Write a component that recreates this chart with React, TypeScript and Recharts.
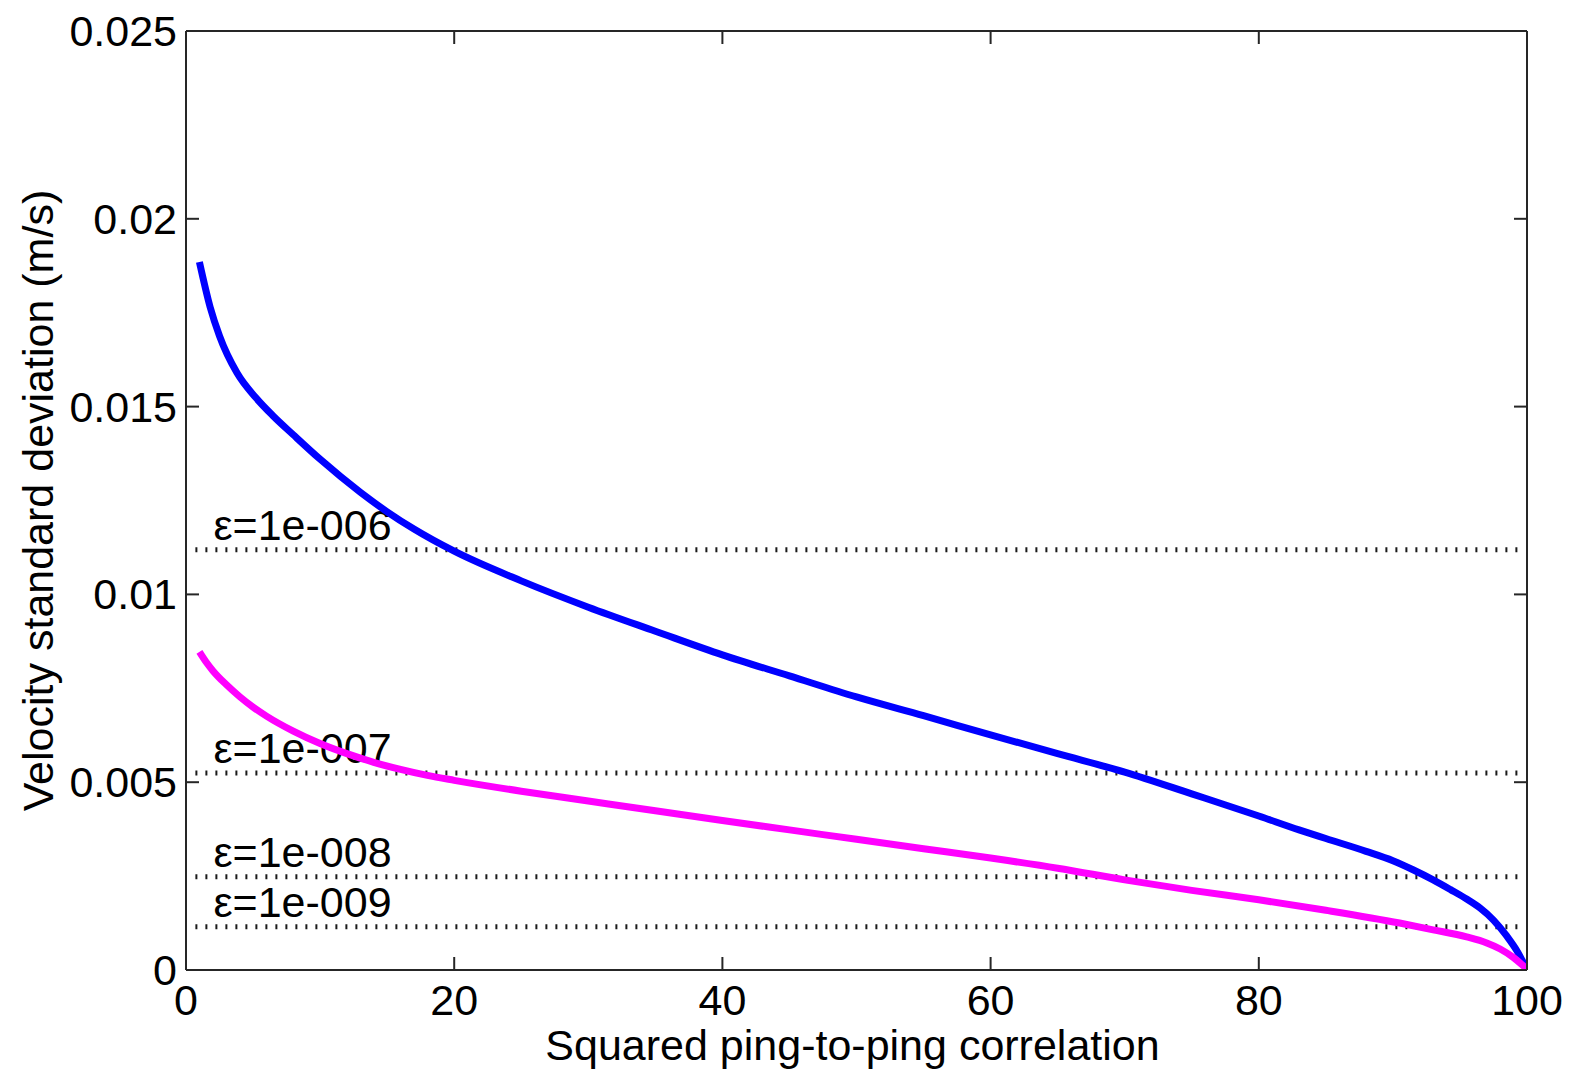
import { LineChart, Line, XAxis, YAxis, ReferenceLine } from "recharts"

// axis ticks
const xTicks = [0, 20, 40, 60, 80, 100]
const yTicks = [0, 0.005, 0.01, 0.015, 0.02, 0.025]

// blue curve
const blueX = [1, 1.8, 2.5, 3.8, 5.2, 6.5, 8, 10, 13, 15, 17, 20, 25, 30, 35, 40, 45, 50, 55, 60, 65, 70, 75, 80, 83, 85, 88, 90, 91.5, 93, 94.3, 95.5, 96.5, 97.5, 98.5, 99.3, 100]
const blueY = [0.01885, 0.01765, 0.01688, 0.0159, 0.01524, 0.01475, 0.01425, 0.0136, 0.01272, 0.0122, 0.01174, 0.01115, 0.01036, 0.00966, 0.00902, 0.00839, 0.00783, 0.00727, 0.00677, 0.00626, 0.00576, 0.00527, 0.00469, 0.0041, 0.00373, 0.0035, 0.00316, 0.00291, 0.00267, 0.0024, 0.00214, 0.00189, 0.00165, 0.00133, 0.0009, 0.00048, 0]

// magenta curve
const magentaX = [1, 1.5, 2, 3, 4, 5, 6, 8, 10, 12, 14, 16, 18, 20, 25, 30, 35, 40, 45, 50, 55, 60, 65, 70, 75, 80, 85, 90.5, 93, 95.5, 97, 98, 99, 99.6, 100]
const magentaY = [0.00847, 0.0082, 0.00797, 0.0076, 0.00728, 0.007, 0.00676, 0.00636, 0.00603, 0.00576, 0.00553, 0.00534, 0.00518, 0.00505, 0.00476, 0.0045, 0.00424, 0.00398, 0.00373, 0.00348, 0.00323, 0.00298, 0.00271, 0.0024, 0.00212, 0.00187, 0.00159, 0.00125, 0.00107, 0.00088, 0.00072, 0.00056, 0.00033, 0.00015, 0.00002]

// epsilon reference levels
const epsLabels = ["ε=1e-006", "ε=1e-007", "ε=1e-008", "ε=1e-009"]
const epsLevels = [0.01119, 0.005245, 0.00248, 0.00115]
const epsStart = 0.7
const epsEnd = 99.5

const blueData = blueX.map((x, i) => ({ x, y: blueY[i] }))
const magentaData = magentaX.map((x, i) => ({ x, y: magentaY[i] }))

const FONT = "'Liberation Sans', Arial, Helvetica, sans-serif"
const FS = 43
const FRAME = "#262626"
const TICK_LEN = 13
const TINY = 0.001

const BottomTick = (props: any) => {
  const { x, y, payload } = props
  return (
    <g>
      <line x1={x} y1={y} x2={x} y2={y - TICK_LEN} stroke={FRAME} strokeWidth={2} />
      <text x={x} y={y + 45} textAnchor="middle" fontSize={FS} fontFamily={FONT} fill="#000">
        {payload.value}
      </text>
    </g>
  )
}

const TopTick = (props: any) => {
  const { x, y } = props
  return <line x1={x} y1={y} x2={x} y2={y + TICK_LEN} stroke={FRAME} strokeWidth={2} />
}

const LeftTick = (props: any) => {
  const { x, y, payload } = props
  return (
    <g>
      <line x1={x} y1={y} x2={x + TICK_LEN} y2={y} stroke={FRAME} strokeWidth={2} />
      <text x={x - 9} y={y + 15} textAnchor="end" fontSize={FS} fontFamily={FONT} fill="#000">
        {String(payload.value)}
      </text>
    </g>
  )
}

const RightTick = (props: any) => {
  const { x, y } = props
  return <line x1={x} y1={y} x2={x - TICK_LEN} y2={y} stroke={FRAME} strokeWidth={2} />
}

const xTitle = (props: any) => {
  const vb = props.viewBox
  return (
    <text x={vb.x + vb.width / 2 - 4} y={vb.y + 90} textAnchor="middle" fontSize={FS} fontFamily={FONT} fill="#000">
      Squared ping-to-ping correlation
    </text>
  )
}

const yTitle = (props: any) => {
  const vb = props.viewBox
  const cx = 53
  const cy = vb.y + vb.height / 2
  return (
    <text x={cx} y={cy} transform={`rotate(-90 ${cx} ${cy})`} textAnchor="middle" fontSize={FS} fontFamily={FONT} fill="#000">
      Velocity standard deviation (m/s)
    </text>
  )
}

const epsLabel = (label: string) => (props: any) => {
  const vb = props.viewBox
  return (
    <text x={vb.x + 18} y={vb.y - 10} fontSize={FS} fontFamily={FONT} fill="#000">
      {label}
    </text>
  )
}

export default function App() {
  return (
    <div style={{ position: "absolute", left: 0, top: 0, width: 1569, height: 1074, background: "#fff" }}>
      <LineChart width={1569} height={1074} margin={{ top: 30, right: 41, bottom: 0, left: 0 }}>
        <XAxis
          xAxisId="b"
          type="number"
          dataKey="x"
          domain={[0, 100]}
          ticks={xTicks}
          interval={0}
          height={104}
          tickSize={TINY}
          tickMargin={TINY}
          tickLine={false}
          axisLine={{ stroke: FRAME, strokeWidth: 2 }}
          tick={<BottomTick />}
          label={xTitle}
          allowDataOverflow
        />
        <XAxis
          xAxisId="t"
          orientation="top"
          type="number"
          dataKey="x"
          domain={[0, 100]}
          ticks={xTicks}
          interval={0}
          height={1}
          tickSize={TINY}
          tickMargin={TINY}
          tickLine={false}
          axisLine={{ stroke: FRAME, strokeWidth: 2 }}
          tick={<TopTick />}
          allowDataOverflow
        />
        <YAxis
          yAxisId="l"
          type="number"
          domain={[0, 0.025]}
          ticks={yTicks}
          interval={0}
          width={186}
          tickSize={TINY}
          tickMargin={TINY}
          tickLine={false}
          axisLine={{ stroke: FRAME, strokeWidth: 2 }}
          tick={<LeftTick />}
          label={yTitle}
          allowDataOverflow
        />
        <YAxis
          yAxisId="r"
          orientation="right"
          type="number"
          domain={[0, 0.025]}
          ticks={yTicks}
          interval={0}
          width={1}
          tickSize={TINY}
          tickMargin={TINY}
          tickLine={false}
          axisLine={{ stroke: FRAME, strokeWidth: 2 }}
          tick={<RightTick />}
          allowDataOverflow
        />
        {epsLevels.map((v, i) => (
          <ReferenceLine
            key={epsLabels[i]}
            xAxisId="b"
            yAxisId="l"
            segment={[{ x: epsStart, y: v }, { x: epsEnd, y: v }]}
            stroke="#1a1a1a"
            strokeWidth={5}
            strokeDasharray="2 8"
            label={epsLabel(epsLabels[i])}
          />
        ))}
        <Line
          xAxisId="b"
          yAxisId="l"
          data={blueData}
          dataKey="y"
          type="monotone"
          stroke="#0000ff"
          strokeWidth={7}
          dot={false}
          activeDot={false}
          isAnimationActive={false}
        />
        <Line
          xAxisId="b"
          yAxisId="l"
          data={magentaData}
          dataKey="y"
          type="monotone"
          stroke="#ff00ff"
          strokeWidth={7}
          dot={false}
          activeDot={false}
          isAnimationActive={false}
        />
      </LineChart>
    </div>
  )
}
